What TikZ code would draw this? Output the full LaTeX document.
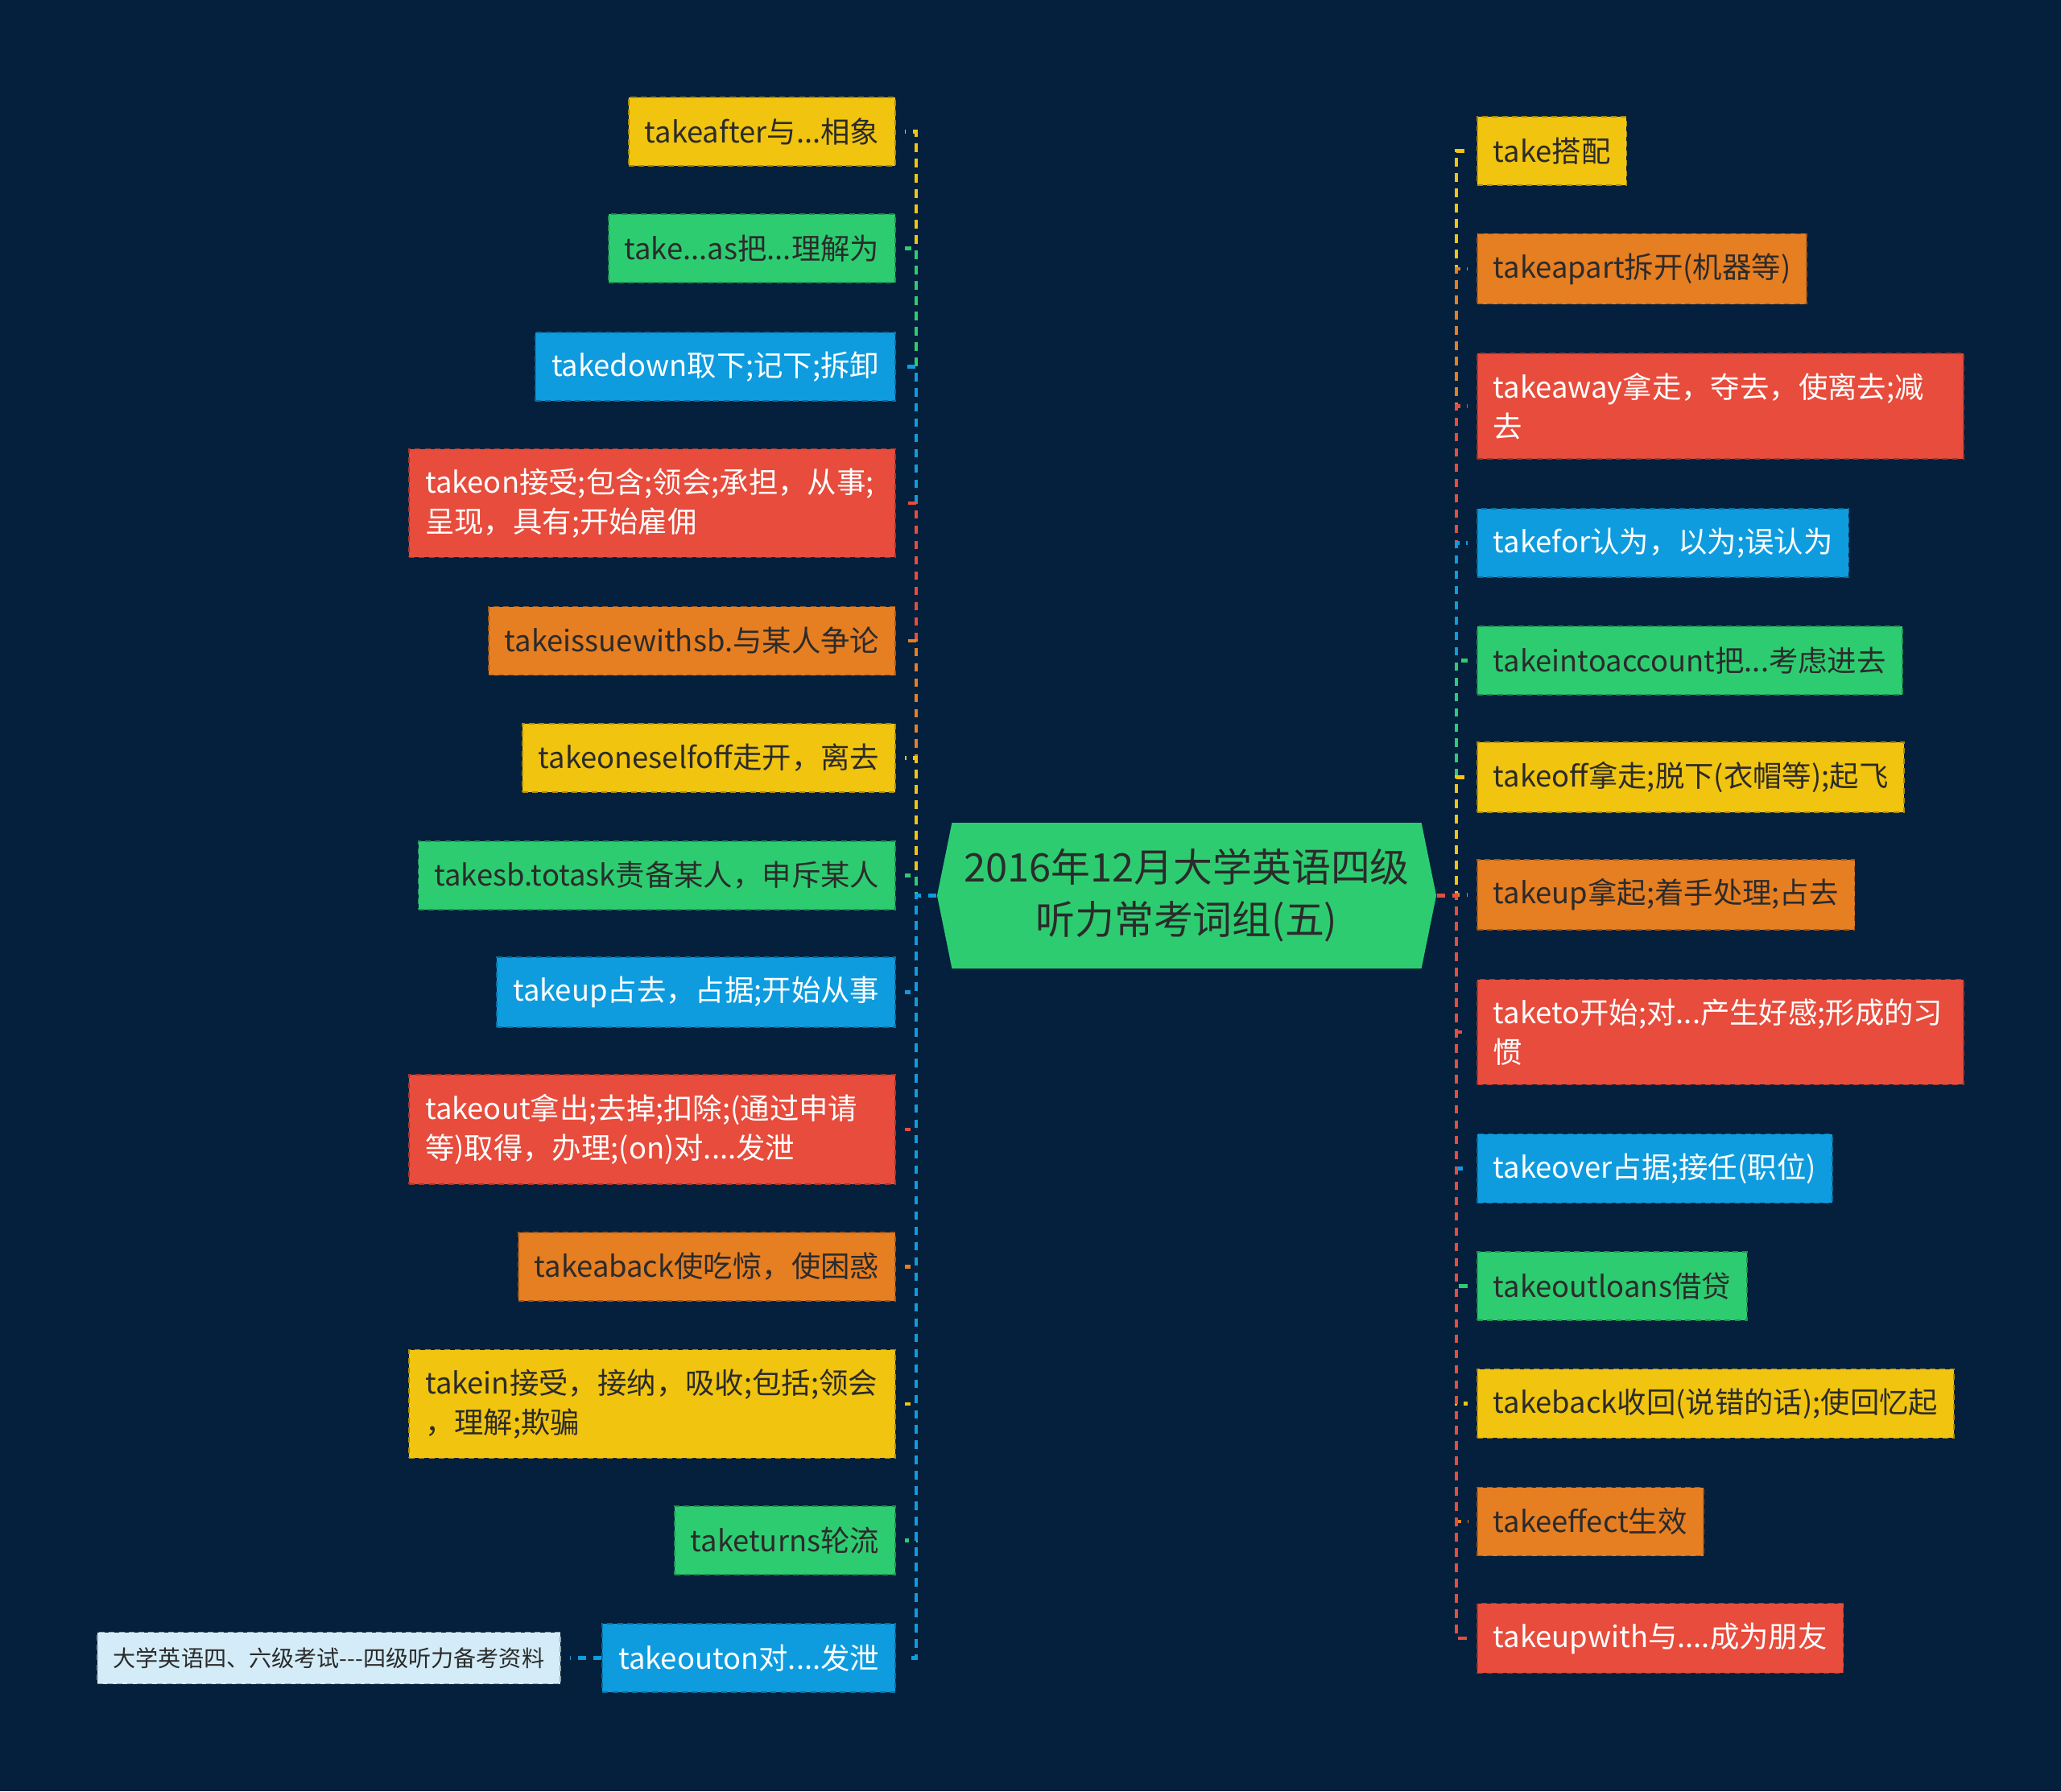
\documentclass[tikz,border=0pt]{standalone}
\usepackage{fontspec}
\setmainfont{Noto Sans CJK SC}
\usetikzlibrary{shapes.symbols}
\definecolor{bg}{HTML}{04203C}
\definecolor{cy}{HTML}{F1C40F}
\definecolor{cg}{HTML}{2ECC71}
\definecolor{cb}{HTML}{0E9CDF}
\definecolor{co}{HTML}{E67E22}
\definecolor{cr}{HTML}{E74C3C}
\definecolor{cl}{HTML}{D3ECF8}
\definecolor{ink}{HTML}{2B2B2B}

\begin{document}
\begin{tikzpicture}[
  leaf/.style={draw=#1!70!black, fill=#1, dash pattern=on 2pt off 1.5pt,
    line width=0.5pt, inner xsep=0.2cm, inner ysep=0.24cm,
    minimum height=0.85cm, align=left,
    font=\fontsize{10.35pt}{14pt}\selectfont},
  yleaf/.style={leaf=cy, text=ink},
  gleaf/.style={leaf=cg, text=ink},
  oleaf/.style={leaf=co, text=ink},
  bleaf/.style={leaf=cb, text=white},
  rleaf/.style={leaf=cr, text=white},
  ywide/.style={yleaf, text width=5.64cm},
  rwide/.style={rleaf, text width=5.64cm},
  conn/.style={line width=1.4pt, dash pattern=on 3pt off 2.4pt, shorten >=3pt}
]
  \fill[bg] (0,0) rectangle (25.6,-22.25);
  \useasboundingbox (0,0) rectangle (25.6,-22.25);

  % central topic
  \node[signal, signal to=west and east, signal pointer angle=157, fill=cg,
        text=ink, minimum width=6.2cm, minimum height=1.81cm, inner sep=0pt,
        align=center, font=\fontsize{13.9pt}{18.5pt}\selectfont]
    (root) at (14.74,-11.125) {2016年12月大学英语四级\\听力常考词组(五)};
  \coordinate (lt) at (11.38,-11.125);
  \coordinate (rt) at (18.09,-11.125);

  % left branch
  \foreach \n/\y/\s/\t in {
      l1/1.635/yleaf/{takeafter与...相象},
      l2/3.085/gleaf/{take...as把...理解为},
      l3/4.555/bleaf/{takedown取下;记下;拆卸},
      l4/6.25/rwide/{takeon接受;包含;领会;承担，从事;\\呈现，具有;开始雇佣},
      l5/7.96/oleaf/{takeissuewithsb.与某人争论},
      l6/9.415/yleaf/{takeoneselfoff走开，离去},
      l7/10.875/gleaf/{takesb.totask责备某人，申斥某人},
      l8/12.325/bleaf/{takeup占去，占据;开始从事},
      l9/14.03/rwide/{takeout拿出;去掉;扣除;(通过申请\\等)取得，办理;(on)对....发泄},
      l10/15.735/oleaf/{takeaback使吃惊，使困惑},
      l11/17.44/ywide/{takein接受，接纳，吸收;包括;领会\\，理解;欺骗},
      l12/19.135/gleaf/{taketurns轮流},
      l13/20.595/bleaf/{takeouton对....发泄}}
    \node[\s, anchor=east] (\n) at (11.13,-\y) {\t};

  % right branch
  \foreach \n/\y/\s/\t in {
      r1/1.875/yleaf/{take搭配},
      r2/3.34/oleaf/{takeapart拆开(机器等)},
      r3/5.045/rwide/{takeaway拿走，夺去，使离去;减\\去},
      r4/6.745/bleaf/{takefor认为，以为;误认为},
      r5/8.205/gleaf/{takeintoaccount把...考虑进去},
      r6/9.655/yleaf/{takeoff拿走;脱下(衣帽等);起飞},
      r7/11.115/oleaf/{takeup拿起;着手处理;占去},
      r8/12.82/rwide/{taketo开始;对...产生好感;形成的习\\惯},
      r9/14.515/bleaf/{takeover占据;接任(职位)},
      r10/15.975/gleaf/{takeoutloans借贷},
      r11/17.435/yleaf/{takeback收回(说错的话);使回忆起},
      r12/18.9/oleaf/{takeeffect生效},
      r13/20.35/rleaf/{takeupwith与....成为朋友}}
    \node[\s, anchor=west] (\n) at (18.34,-\y) {\t};

  % note on the last left topic
  \node[leaf=cl, text=ink, minimum height=0.64cm, inner ysep=0.15cm,
        font=\fontsize{8pt}{11pt}\selectfont, anchor=east]
    (note) at (6.97,-20.595) {大学英语四、六级考试-{}-{}-四级听力备考资料};

  % connectors
  \foreach \n/\c in {l1/cy, l2/cg, l3/cb, l4/cr, l5/co, l6/cy, l7/cg,
                     l8/cb, l9/cr, l10/co, l11/cy, l12/cg, l13/cb}
    \draw[conn, \c] (root.west) -- (lt) |- (\n.east);
  \foreach \n/\c in {r1/cy, r2/co, r3/cr, r4/cb, r5/cg, r6/cy, r7/co,
                     r8/cr, r9/cb, r10/cg, r11/cy, r12/co, r13/cr}
    \draw[conn, \c] (root.east) -- (rt) |- (\n.west);
  \draw[conn, cb] (l13.west) -- (note.east);
\end{tikzpicture}
\end{document}
